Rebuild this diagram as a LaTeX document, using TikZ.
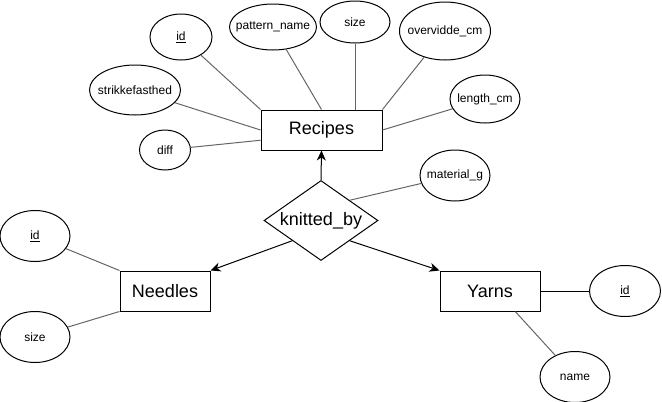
\documentclass[tikz,border=0pt]{standalone}
\usepackage{fontspec}
\setmainfont{Liberation Sans}
\usetikzlibrary{shapes.geometric,arrows.meta,calc}
\definecolor{attrline}{HTML}{666666}
\tikzset{
  attr/.style={draw=black, line width=1pt, ellipse, inner xsep=-20pt, inner ysep=-6pt, font=\fontsize{12}{14}\selectfont},
  entity/.style={draw=black, line width=1pt, rectangle, inner sep=0pt, font=\fontsize{18}{21}\selectfont},
  rel/.style={draw=black, line width=1pt, diamond, aspect=1.425, inner sep=0pt, minimum width=114pt, minimum height=80pt, font=\fontsize{18}{21}\selectfont},
  attrlink/.style={draw=attrline, line width=1pt},
  blacklink/.style={draw=black, line width=1pt},
  relarrow/.style={draw=black, line width=1pt, -{Stealth[length=10pt,width=9pt,inset=3pt]}}
}
\begin{document}
\begin{tikzpicture}[x=1pt,y=-1pt]
\useasboundingbox (0,0) rectangle (662,402);
% entities
\node[entity, minimum width=121pt, minimum height=40pt] (recipes) at (321.5,130) {Recipes};
\node[entity, minimum width=90pt, minimum height=40pt] (needles) at (165,291) {Needles};
\node[entity, minimum width=100pt, minimum height=40pt] (yarns) at (490,291) {Yarns};
\node[rel] (kb) at (321,220.5) {knitted\_by};
% recipe attributes
\node[attr, minimum width=62pt, minimum height=46pt] (rid) at (181,37) {\underline{id}};
\node[attr, minimum width=87pt, minimum height=46pt] (pname) at (273,27) {pattern\_name};
\node[attr, minimum width=70pt, minimum height=42pt] (rsize) at (355,22) {size};
\node[attr, minimum width=91pt, minimum height=58pt] (over) at (445,31) {overvidde\_cm};
\node[attr, minimum width=91pt, minimum height=50pt] (strik) at (135,90) {strikkefasthed};
\node[attr, minimum width=70pt, minimum height=48pt] (len) at (485,99) {length\_cm};
\node[attr, minimum width=51pt, minimum height=40pt] (diff) at (165,150) {diff};
% relationship attribute
\node[attr, minimum width=70pt, minimum height=51pt] (mat) at (455,175.5) {material\_g};
% needles attributes
\node[attr, minimum width=70pt, minimum height=51pt] (nid) at (35,236) {\underline{id}};
\node[attr, minimum width=70pt, minimum height=51pt] (nsize) at (35,337) {size};
% yarns attributes
\node[attr, minimum width=71pt, minimum height=51pt] (yid) at (625,291) {\underline{id}};
\node[attr, minimum width=70pt, minimum height=51pt] (yname) at (575,377) {name};
% helper coordinates
\coordinate (rdiff) at ($(recipes.west)!0.5!(recipes.south west)$);
\coordinate (kbll) at ($(kb.west)!0.5!(kb.south)$);
\coordinate (kblr) at ($(kb.east)!0.5!(kb.south)$);
\coordinate (kbur) at ($(kb.east)!0.5!(kb.north)$);
\coordinate (ybot) at ($(yarns.south)!0.5!(yarns.south east)$);
% recipe attribute links
\draw[attrlink] (rid) -- (recipes.north west);
\draw[attrlink] (pname) -- (recipes.north);
\draw[attrlink] (rsize) -- (rsize |- recipes.north);
\draw[attrlink] (over) -- (recipes.north east);
\draw[attrlink] (strik) -- (recipes.west);
\draw[attrlink] (len) -- (recipes.east);
\draw[attrlink] (diff) -- (rdiff);
% relationship
\draw[relarrow] (kb.north) -- (recipes.south);
\draw[relarrow] (kbll) -- (needles.north east);
\draw[relarrow] (kblr) -- (yarns.north west);
\draw[attrlink] (kbur) -- (mat);
% needles links
\draw[attrlink] (nid) -- (needles.north west);
\draw[attrlink] (nsize) -- (needles.south west);
% yarns links
\draw[blacklink] (yarns.east) -- (yid);
\draw[attrlink] (yname) -- (ybot);
\end{tikzpicture}
\end{document}
